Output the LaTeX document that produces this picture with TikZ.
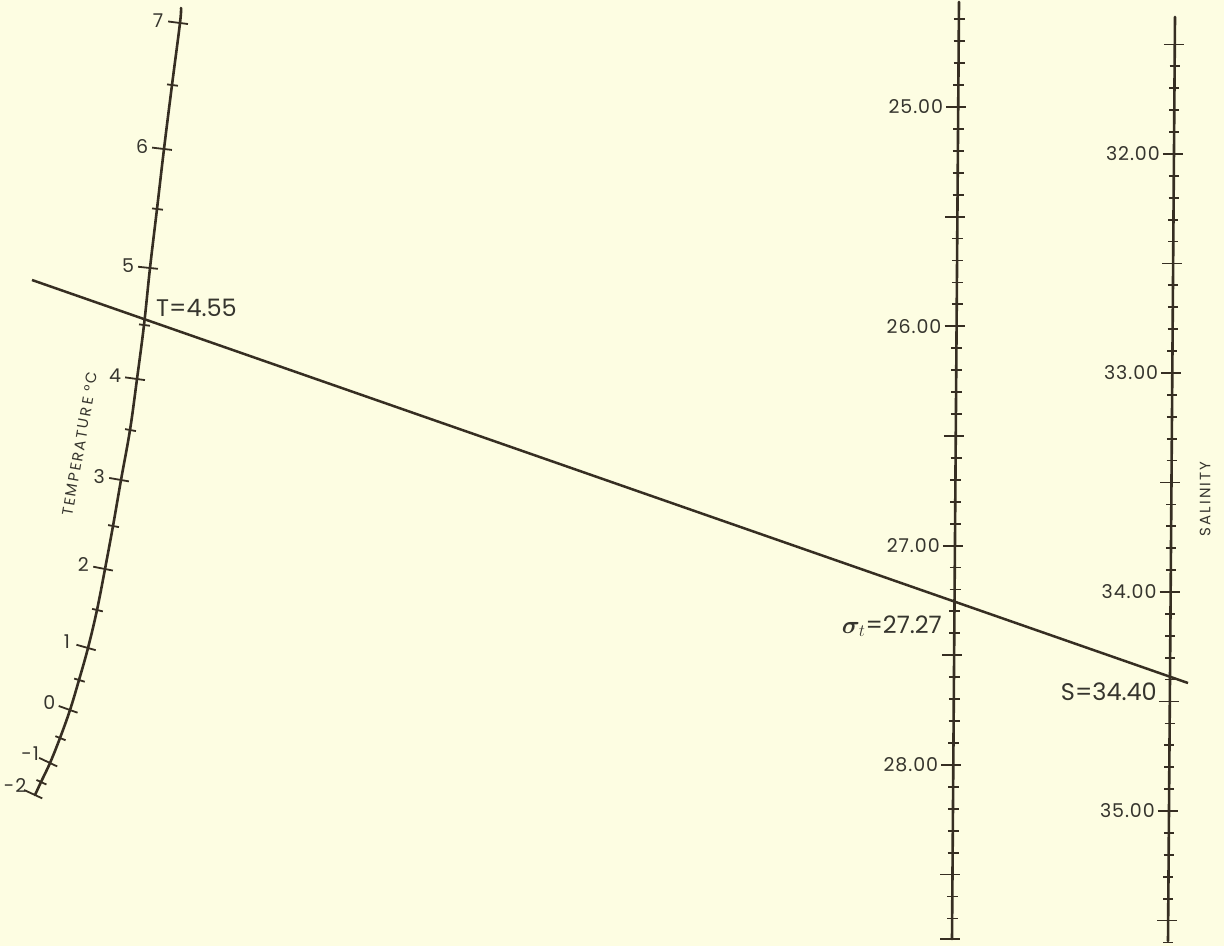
\documentclass[tikz,border=0pt]{standalone}
\usepackage{amsmath}
\usepackage{bm}
\usepackage{fontspec}
\setmainfont{Poppins}
\usepackage{xcolor}
\usepackage{tikz}
\usetikzlibrary{calc}
\definecolor{nback}{HTML}{FDFDE2}
\definecolor{nink}{HTML}{362E22}
\definecolor{ntext}{HTML}{36352E}
\tikzset{
  naxis/.style={draw=nink, line width=2.6pt, line cap=round},
  ntick/.style={draw=nink, line width=1.8pt},
  nline/.style={draw=nink, line width=2.5pt},
  nnum/.style={text=ntext, inner sep=1pt,
    font=\fontsize{19}{19}\selectfont\addfontfeatures{LetterSpace=5}},
  nread/.style={text=ntext, inner sep=1pt,
    font=\fontsize{24}{24}\selectfont},
  ntitle/.style={text=ntext, inner sep=0pt,
    font=\fontsize{15}{15}\selectfont\addfontfeatures{LetterSpace=14}},
}

\begin{document}
\begin{tikzpicture}[x=1pt,y=-1pt]

  % fundo
  \fill[nback] (0,0) rectangle (1224,946);
  \useasboundingbox (0,0) rectangle (1224,946);

  % escala da temperatura (curva)
  \coordinate (t0) at (181,8);
  \foreach \px/\py [count=\i] in {180/23, 172/85, 164/149, 157/209, 150/268,
      144/325, 137/379, 130/430, 121/480, 113/526, 105/569, 97/610, 88/648,
      79/680, 70/710, 60/738, 50/763, 41/782, 35/795}
    \coordinate (t\i) at (\px,\py);
  \coordinate (t20) at ($(t19)!-1!(t18)$);
  \draw[naxis] plot[smooth, tension=0.6] coordinates {(t0) (t1) (t2) (t3)
      (t4) (t5) (t6) (t7) (t8) (t9) (t10) (t11) (t12) (t13) (t14) (t15)
      (t16) (t17) (t18) (t19)};
  \foreach \i in {1,...,19}{
    \pgfmathtruncatemacro\j{\i+1}
    \pgfmathtruncatemacro\ismaj{mod(\i,2)}
    \ifnum\ismaj=1
      \draw[ntick] ($(t\i)!12pt!-90:(t\j)$) -- ($(t\i)!8pt!90:(t\j)$);
    \else
      \draw[ntick] ($(t\i)!5pt!-90:(t\j)$) -- ($(t\i)!6pt!90:(t\j)$);
    \fi
  }
  \foreach \lab/\i in {7/1, 6/3, 5/5, 4/7, 3/9, 2/11, 1/13, 0/15, -1/17, -2/19}{
    \pgfmathtruncatemacro\j{\i+1}
    \node[nnum] (tl\i) at ($(t\i)!22pt!-90:(t\j)$) {\lab};
  }
  \node[ntitle, rotate=80] (ttitle) at (80,444) {TEMPERATURE °C};

  % escala de sigma-t
  \coordinate (stop) at (959,2);
  \coordinate (sbot) at (952,939);
  \draw[naxis] (stop) -- (sbot);
  \foreach \k in {246,...,287}{
    \pgfmathsetmacro\f{(107+(\k/10-25)*219.3-2)/937}
    \pgfmathtruncatemacro\m{mod(\k,5)}
    \ifnum\m=0 \def\ticklft{12}\def\tickrgt{8}\else\def\ticklft{5}\def\tickrgt{6}\fi
    \draw[ntick] ($(stop)!\f!(sbot)$) +(-\ticklft,0) -- +(\tickrgt,0);
  }
  \draw[ntick] (sbot) +(-12,0) -- +(8,0);
  \foreach \v/\k in {25.00/250, 26.00/260, 27.00/270, 28.00/280}{
    \pgfmathsetmacro\f{(107+(\k/10-25)*219.3-2)/937}
    \node[nnum, anchor=east] (sl\k) at ($(stop)!\f!(sbot)+(-14,0)$) {\v};
  }

  % escala da salinidade
  \coordinate (ptop) at (1175,17);
  \coordinate (pbot) at (1168,941);
  \draw[naxis] (ptop) -- (pbot);
  \foreach \k in {315,...,356}{
    \pgfmathsetmacro\f{(154+(\k/10-32)*219-17)/924}
    \pgfmathtruncatemacro\m{mod(\k,5)}
    \ifnum\m=0 \def\ticklft{11}\def\tickrgt{9}\else\def\ticklft{5}\def\tickrgt{5}\fi
    \draw[ntick] ($(ptop)!\f!(pbot)$) +(-\ticklft,0) -- +(\tickrgt,0);
  }
  \foreach \v/\k in {32.00/320, 33.00/330, 34.00/340, 35.00/350}{
    \pgfmathsetmacro\f{(154+(\k/10-32)*219-17)/924}
    \node[nnum, anchor=east] (pl\k) at ($(ptop)!\f!(pbot)+(-13,0)$) {\v};
  }
  \node[ntitle, rotate=90] (ptitle) at (1205,499) {SALINITY};

  % reta de leitura
  \coordinate (lw) at (32,280);
  \coordinate (le) at (1188,683);
  \draw[nline] (lw) -- (le);
  \node[nread, anchor=west] (tval) at (155,308) {T=4.55};
  \node[nread, anchor=base east] (sigval) at (943,633)
    {$\bm{\sigma}_t$=27.27};
  \node[nread, anchor=east] (salval) at (1158,692) {S=34.40};

\end{tikzpicture}
\end{document}
